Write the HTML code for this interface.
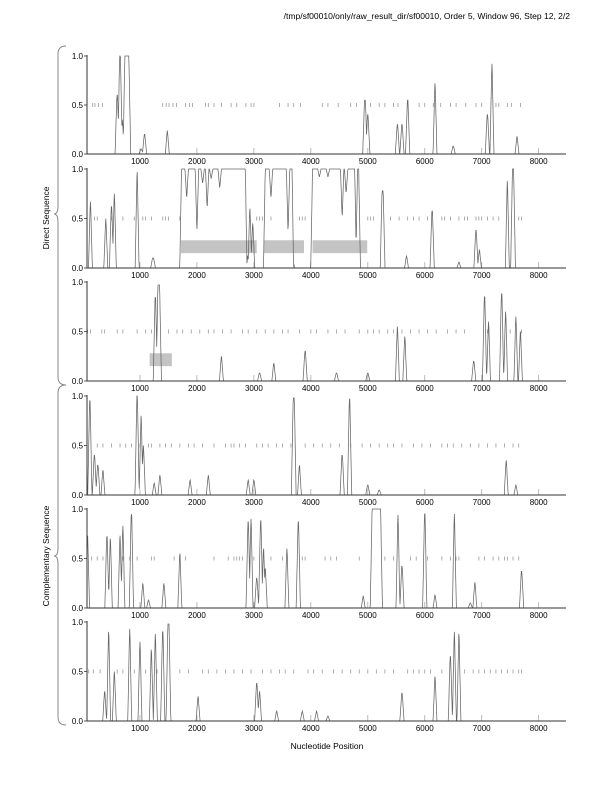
<!DOCTYPE html>
<html><head><meta charset="utf-8"><style>
body{margin:0;background:#fff}
svg{display:block;font-family:"Liberation Sans",sans-serif}
</style></head><body>
<svg id="c" width="612" height="792" viewBox="0 0 612 792">
<text x="570" y="19" font-size="8.5" text-anchor="end">/tmp/sf00010/only/raw_result_dir/sf00010, Order 5, Window 96, Step 12, 2/2</text>
<text x="327" y="749" font-size="8.5" text-anchor="middle">Nucleotide Position</text>
<text transform="translate(49,218) rotate(-90)" font-size="8.5" text-anchor="middle">Direct Sequence</text>
<text transform="translate(49,556) rotate(-90)" font-size="8.5" text-anchor="middle">Complementary Sequence</text>
<path d="M66,46 Q58,46 58,54 L58,206 Q58,214 54,214 Q58,214 58,222 L58,377 Q58,385 66,385" fill="none" stroke="#888" stroke-width="1"/>
<path d="M66,385 Q58,385 58,393 L58,548 Q58,556 54,556 Q58,556 58,564 L58,717 Q58,725 66,725" fill="none" stroke="#888" stroke-width="1"/>
</svg>
<script>
// peaks: [center nt, height, top width nt]
const peaks1=[[600,0.6,10],[650,1.0,15],[690,0.35,5],[770,1.0,70],[1020,0.05,10],[1080,0.2,10],[1480,0.24,5],[4950,0.55,15],[5000,0.4,10],[5520,0.3,10],[5600,0.3,10],[5700,0.55,10],[6180,0.72,5],[6500,0.08,10],[7100,0.4,10],[7180,0.92,5],[7620,0.18,5]];
const peaks2=[[130,0.67,5],[400,0.5,5],[500,0.62,10],[550,0.75,5],[950,0.97,5],[1230,0.1,20],[2300,1.0,1140],[2930,0.6,5],[2980,0.45,5],[3440,1.0,480],[4400,1.0,740],[4700,0.8,5],[4830,1.0,20],[5260,0.78,20],[5680,0.12,5],[6130,0.58,10],[6600,0.06,5],[6900,0.38,10],[6960,0.18,5],[7450,0.88,5],[7550,1.0,20]];
const dips2=[[1820,0.7],[2000,0.35],[2100,0.85],[2180,0.6],[2250,0.9],[2400,0.8],[2880,0.0],[3300,0.7],[3600,0.35],[3700,0.0],[4150,0.92],[4300,0.92],[4550,0.5],[4620,0.75]];
const peaks3=[[1270,0.85,10],[1330,0.97,30],[2430,0.25,5],[3100,0.08,10],[3350,0.18,5],[3900,0.3,10],[4450,0.08,10],[5000,0.08,10],[5520,0.55,5],[5650,0.45,5],[6860,0.2,10],[7050,0.85,10],[7120,0.6,5],[7350,0.88,10],[7420,0.7,5],[7600,0.65,5],[7680,0.5,5]];
const peaks4=[[120,0.95,10],[200,0.4,10],[260,0.3,10],[350,0.25,5],[950,1.0,10],[1020,0.8,5],[1060,0.5,5],[1250,0.12,5],[1350,0.2,5],[1880,0.15,5],[2200,0.2,5],[2900,0.15,5],[3000,0.15,5],[3700,0.98,20],[3800,0.3,5],[4550,0.4,10],[4680,0.97,10],[5000,0.1,10],[5200,0.05,10],[7430,0.35,5],[7600,0.1,5]];
const peaks5=[[80,0.73,5],[420,0.72,10],[480,0.7,5],[650,0.73,5],[700,0.83,5],[850,0.95,10],[1050,0.25,5],[1150,0.08,5],[1420,0.25,5],[1700,0.55,5],[2900,0.87,10],[2950,0.9,5],[3050,0.3,10],[3120,0.88,10],[3170,0.6,5],[3200,0.4,5],[3580,0.6,5],[3780,0.87,10],[4920,0.12,5],[5150,1.0,150],[5530,0.94,5],[5600,0.42,10],[6000,0.95,10],[6180,0.13,5],[6520,0.95,5],[6800,0.05,10],[6880,0.26,5],[7700,0.37,10]];
const peaks6=[[380,0.3,5],[450,0.9,5],[550,0.5,5],[820,0.93,5],[1000,0.8,5],[1200,0.72,5],[1270,0.88,5],[1400,0.9,10],[1500,0.98,20],[2020,0.25,5],[3050,0.38,10],[3100,0.3,5],[3400,0.1,5],[3850,0.1,5],[4100,0.1,5],[4300,0.05,5],[5600,0.28,10],[6180,0.45,5],[6450,0.65,10],[6520,0.9,5],[6600,0.88,5]];
// stop codon positions at 0.5
const stops1=[170,210,270,340,1400,1460,1510,1580,1640,1800,1870,1920,2150,2200,2300,2430,2600,2700,2860,2950,3000,3450,3600,3700,3820,4200,4300,4480,4700,4800,5050,5200,5300,5450,5530,5900,6000,6150,6280,6450,6550,6720,6900,7000,7250,7300,7450,7520,7680];
const stops2=[200,250,500,700,900,1050,1100,1200,1400,1450,1500,1700,3050,3100,3150,3300,3800,3850,3900,5000,5050,5100,5400,5550,5700,5800,5900,6050,6300,6350,6450,6600,6700,6750,6900,6950,7000,7100,7200,7300,7650,7700];
const stops3=[80,130,330,380,600,700,950,1100,1200,1500,1650,1750,1900,2050,2200,2300,2450,2600,2800,2900,3050,3200,3350,3500,3600,3800,4000,4100,4300,4450,4600,4850,5000,5100,5200,5350,5450,5600,5750,5900,6050,6200,6400,6550,6700,7100,7500,7700];
const stops4=[250,350,500,650,750,850,1000,1150,1200,1350,1450,1550,1700,1850,1950,2100,2300,2500,2600,2650,2750,2850,3050,3150,3250,3400,3500,3650,3900,4050,4200,4350,4500,4700,4900,5050,5200,5350,5450,5600,5800,5950,6100,6300,6400,6500,6650,6800,6950,7100,7250,7400,7550,7650];
const stops5=[150,250,350,700,820,950,1200,1250,1600,1700,1800,2300,2550,2650,2700,2750,2800,3000,3300,3500,3850,3900,4250,4350,4450,4850,5300,5450,5750,5850,6050,6300,6450,6550,6600,6950,7050,7200,7300,7400,7450,7550,7650];
const stops6=[100,180,300,600,700,900,1100,1300,1700,1850,2100,2200,2350,2500,2650,2800,2950,3150,3300,3450,3550,3700,3950,4050,4200,4400,4550,4700,4850,5000,5150,5300,5450,5700,5800,5900,6000,6100,6300,6700,6850,6950,7050,7150,7250,7350,7450,7550,7650,7700];
// gray boxes [start nt, end nt, low, high]
const boxes2=[[1720,3050,0.15,0.28],[3180,3880,0.15,0.28],[4030,4990,0.15,0.28]];
const boxes3=[[1170,1560,0.15,0.28]];
const xTicks=[1000,2000,3000,4000,5000,6000,7000,8000];
const yTicks=[0,0.5,1.0];

const svg=document.getElementById('c');
const NS='http://www.w3.org/2000/svg';
const X0=87,X1=566,NT0=70,NT1=8480;
const xs=n=>X0+(n-NT0)*(X1-X0)/(NT1-NT0);
const panels=[
 {top:56,bot:154,peaks:peaks1,dips:[],stops:stops1,boxes:[]},
 {top:169,bot:268,peaks:peaks2,dips:dips2,stops:stops2,boxes:boxes2},
 {top:282,bot:381,peaks:peaks3,dips:[],stops:stops3,boxes:boxes3},
 {top:396,bot:495,peaks:peaks4,dips:[],stops:stops4,boxes:[]},
 {top:509,bot:608,peaks:peaks5,dips:[],stops:stops5,boxes:[]},
 {top:622,bot:721,peaks:peaks6,dips:[],stops:stops6,boxes:[]}];
function mk(t,a,p){const e=document.createElementNS(NS,t);for(const k in a)e.setAttribute(k,a[k]);(p||svg).appendChild(e);return e;}
panels.forEach((P,i)=>{
 const g=mk('g',{});
 
 
 const ys=v=>P.bot-v*(P.bot-P.top);
 P.boxes.forEach(b=>{
  const r=mk('rect',{x:xs(b[0]),y:ys(b[3]),width:xs(b[1])-xs(b[0]),height:ys(b[2])-ys(b[3]),fill:'#c4c4c4'},g);
  
  
 });
 P.stops.forEach(s=>{
  const l=mk('line',{x1:xs(s),x2:xs(s),y1:ys(0.5)-2,y2:ys(0.5)+2,stroke:'#999','stroke-width':0.8},g);
  
  
 });
 xTicks.forEach(t=>{
  const l=mk('line',{x1:xs(t),x2:xs(t),y1:P.bot,y2:P.bot-6,stroke:'#aaa','stroke-width':0.8},g);
  
  
  const tx=mk('text',{x:xs(t),y:P.bot+10,'font-size':8,'text-anchor':'middle'},g);
  tx.textContent=t;
  
  
 });
 yTicks.forEach(t=>{
  const l=mk('line',{x1:X0-3,x2:X0,y1:ys(t),y2:ys(t),stroke:'#333','stroke-width':0.8},g);
  
  
  const tx=mk('text',{x:X0-4,y:ys(t)+3,'font-size':8,'text-anchor':'end'},g);
  tx.textContent=t.toFixed(1);
  
  
 });
 let pts=[];
 for(let n=NT0;n<=NT1;n+=6){
  let v=0;
  P.peaks.forEach(p=>{const d=Math.abs(n-p[0])-p[2]/2;const s=32;const val=d<=0?p[1]:Math.max(0,p[1]*(1-d/s));if(val>v)v=val;});
  P.dips.forEach(q=>{const d=Math.abs(n-q[0]);if(d<30&&v>0){const m=q[1]+(v-q[1])*(d/30);if(m<v)v=m;}});
  pts.push(xs(n).toFixed(1)+','+ys(v).toFixed(1));
 }
 const pl=mk('polyline',{points:pts.join(' '),fill:'none',stroke:'#666','stroke-width':0.75},g);
 
 
 const ax=mk('path',{d:`M${X0},${P.top-1}L${X0},${P.bot}L${X1},${P.bot}`,fill:'none',stroke:'#333','stroke-width':1},g);
 
 
});
</script>
</body></html>
